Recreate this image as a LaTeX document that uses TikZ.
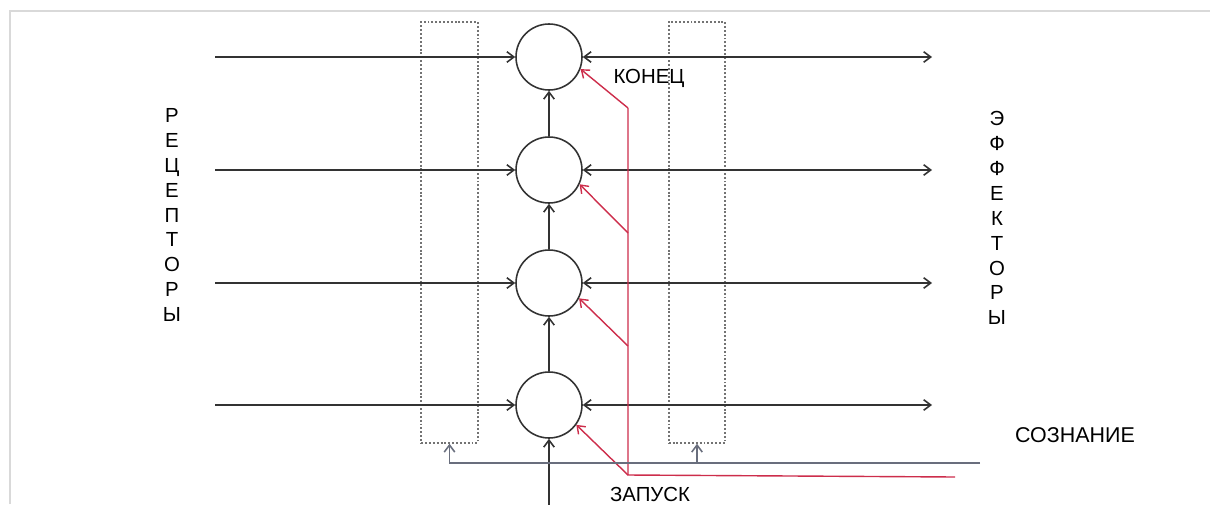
\documentclass[tikz,border=0pt]{standalone}
\usepackage{fontspec}
\setmainfont{Liberation Sans}
\usetikzlibrary{arrows.meta}
\definecolor{startred}{RGB}{205,45,75}
\definecolor{mindgray}{RGB}{105,110,125}

\begin{document}
\begin{tikzpicture}[x=0.02cm,y=-0.02cm,
        >={Straight Barb[length=4pt,width=6pt]},
        line/.style={draw=black!80,line width=0.9pt},
        neuron/.style={circle,draw=black!80,line width=0.9pt,minimum size=1.32cm,inner sep=0pt},
        gate/.style={draw=black!55,dash pattern=on 1.1pt off 1.1pt,line width=0.9pt,minimum width=1.13cm,minimum height=8.42cm,inner sep=0pt},
        startline/.style={draw=startred,line width=0.8pt},
        mindline/.style={draw=mindgray,line width=0.9pt},
        lbl/.style={font=\fontsize{11.6}{14.2}\selectfont,inner sep=0pt}]
                \useasboundingbox (0,0) rectangle (1210,504);
                \draw[black!15,line width=1.5pt] (10,504) -- (10,11) -- (1210,11);

                % dotted boxes
                \node[gate] (lg) at (449.5,232.5) {};
                \node[gate] (rg) at (697,232.5) {};

                % neurons
                \node[neuron] (c1) at (549,57) {};
                \node[neuron] (c2) at (549,170) {};
                \node[neuron] (c3) at (549,283) {};
                \node[neuron] (c4) at (549,405) {};

                \coordinate (r1) at (215,57);
                \coordinate (r2) at (215,170);
                \coordinate (r3) at (215,283);
                \coordinate (r4) at (215,405);
                \coordinate (e1) at (932,57);
                \coordinate (e2) at (932,170);
                \coordinate (e3) at (932,283);
                \coordinate (e4) at (932,405);
                \coordinate (in) at (549,506);

                \draw[line,->] (r1) -- (c1);
                \draw[line,->] (r2) -- (c2);
                \draw[line,->] (r3) -- (c3);
                \draw[line,->] (r4) -- (c4);
                \draw[line,<->] (c1) -- (e1);
                \draw[line,<->] (c2) -- (e2);
                \draw[line,<->] (c3) -- (e3);
                \draw[line,<->] (c4) -- (e4);
                \draw[line,->] (c2) -- (c1);
                \draw[line,->] (c3) -- (c2);
                \draw[line,->] (c4) -- (c3);
                \draw[line,->] (in) -- (c4);

                % start signal
                \coordinate (s1) at (628,108);
                \coordinate (s2) at (628,233);
                \coordinate (s3) at (628,346);
                \coordinate (s4) at (628,475);
                \coordinate (s5) at (955,477);
                \draw[startline] (s1) -- (s4) -- (s5);
                \draw[startline,->] (s1) -- (c1.-21);
                \draw[startline,->] (s2) -- (c2.-25);
                \draw[startline,->] (s3) -- (c3.-27);
                \draw[startline,->] (s4) -- (c4.-36);

                % consciousness
                \coordinate (m1) at (980,463);
                \draw[mindline,->] (m1) -| (lg.south);
                \draw[mindline,->] (rg.south |- m1) -- (rg.south);

                \node[lbl] (stop) at (649,78) {КОНЕЦ};
                \node[lbl] (go) at (650,494) {ЗАПУСК};
                \node[lbl,font=\fontsize{12.2}{14.2}\selectfont] (mind) at (1075,435) {СОЗНАНИЕ};
                \node[lbl,align=center] (rec) at (172,215) {Р\\Е\\Ц\\Е\\П\\Т\\О\\Р\\Ы};
                \node[lbl,align=center] (eff) at (997,218) {Э\\Ф\\Ф\\Е\\К\\Т\\О\\Р\\Ы};
            \end{tikzpicture}
\end{document}
